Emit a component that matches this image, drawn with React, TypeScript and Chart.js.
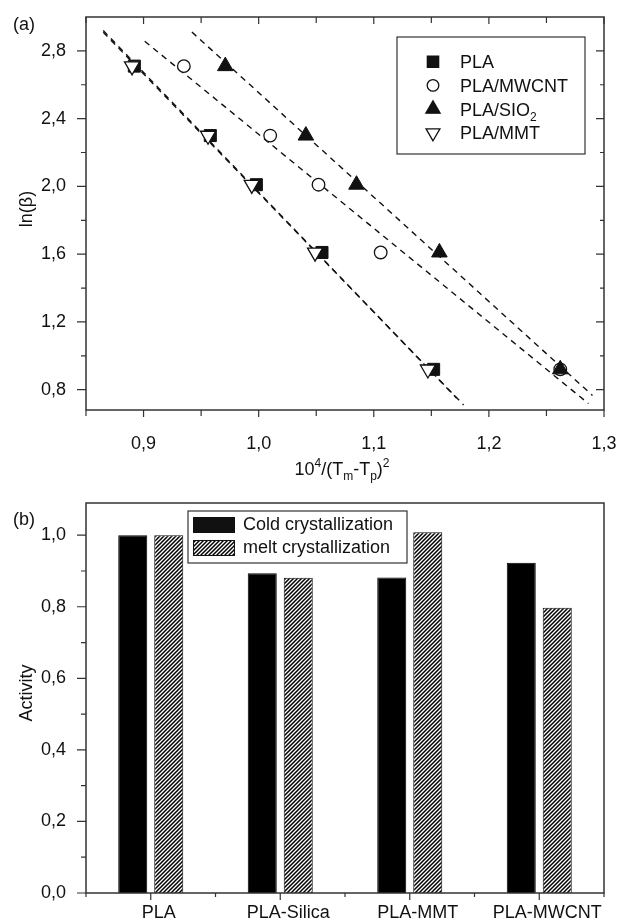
import React, { useEffect, useRef } from 'react';
import { Chart, registerables } from 'chart.js';

Chart.register(...registerables);

const FONT = '"Liberation Sans", Arial, Helvetica, sans-serif';
const INK = '#111111';
const AXIS = '#333333';
const FS = 18;

// ---------- panel (a) ----------
const lnBeta = [2.71, 2.30, 2.01, 1.61, 0.92];
const xPLA = [0.892, 0.958, 0.998, 1.055, 1.152];
const xMWCNT = [0.935, 1.010, 1.052, 1.106, 1.262];
const xSIO2 = [0.971, 1.041, 1.085, 1.157, 1.262];
const xMMT = [0.890, 0.956, 0.994, 1.049, 1.147];
const labelsA = ['PLA', 'PLA/MWCNT', 'PLA/SIO_2', 'PLA/MMT'];

// dashed fit lines: end points
const fitPLAx = [0.865, 1.172];
const fitPLAy = [2.92, 0.75];
const fitMMTx = [0.865, 1.178];
const fitMMTy = [2.91, 0.71];
const fitMWCNTx = [0.901, 1.2865];
const fitMWCNTy = [2.857, 0.718];
const fitSIO2x = [0.942, 1.29];
const fitSIO2y = [2.911, 0.766];

const xMinA = 0.85;
const xMaxA = 1.3;
const yMinA = 0.68;
const yMaxA = 3.0;
const xTicksA = [0.9, 1.0, 1.1, 1.2, 1.3];
const xMinorA = [0.85, 0.95, 1.05, 1.15, 1.25];
const yTicksA = [0.8, 1.2, 1.6, 2.0, 2.4, 2.8];
const yMinorA = [1.0, 1.4, 1.8, 2.2, 2.6];

// ---------- panel (b) ----------
const categoriesB = ['PLA', 'PLA-Silica', 'PLA-MMT', 'PLA-MWCNT'];
const coldCryst = [1.0, 0.894, 0.882, 0.923];
const meltCryst = [1.0, 0.881, 1.008, 0.797];
const labelsB = ['Cold crystallization', 'melt crystallization'];
const yMaxB = 1.09;
const yTicksB = [0, 0.2, 0.4, 0.6, 0.8, 1.0];
const yMinorB = [0.1, 0.3, 0.5, 0.7, 0.9];

const fmt = (v: number) => Number(v).toFixed(1).replace('.', ',');
const pts = (xs: number[], ys: number[]) => xs.map((x, i) => ({ x, y: ys[i] }));

type Seg = { t: string; k?: 'sup' | 'sub' };
function parseSub(s: string): Seg[] {
  const i = s.indexOf('_');
  if (i < 0) return [{ t: s }];
  return [{ t: s.slice(0, i) }, { t: s.slice(i + 1), k: 'sub' }];
}
function drawRich(ctx: CanvasRenderingContext2D, segs: Seg[], x: number, y: number, size: number, align: 'left' | 'center') {
  const small = Math.round(size * 0.68);
  const widths = segs.map((s) => {
    ctx.font = `${s.k ? small : size}px ${FONT}`;
    return ctx.measureText(s.t).width;
  });
  const total = widths.reduce((a, b) => a + b, 0);
  let cx = align === 'center' ? x - total / 2 : x;
  ctx.textAlign = 'left';
  ctx.textBaseline = 'alphabetic';
  segs.forEach((s, i) => {
    ctx.font = `${s.k ? small : size}px ${FONT}`;
    const dy = s.k === 'sup' ? -size * 0.42 : s.k === 'sub' ? size * 0.3 : 0;
    ctx.fillText(s.t, cx, y + dy);
    cx += widths[i];
  });
}
function drawVertical(ctx: CanvasRenderingContext2D, text: string, x: number, y: number, size: number) {
  ctx.save();
  ctx.translate(x, y);
  ctx.rotate(-Math.PI / 2);
  ctx.font = `${size}px ${FONT}`;
  ctx.textAlign = 'center';
  ctx.textBaseline = 'alphabetic';
  ctx.fillText(text, 0, 0);
  ctx.restore();
}
function marker(ctx: CanvasRenderingContext2D, style: string, x: number, y: number, r: number, filled: boolean) {
  ctx.beginPath();
  if (style === 'rect') {
    const s = r * Math.SQRT1_2;
    ctx.rect(x - s, y - s, 2 * s, 2 * s);
  } else if (style === 'circle') {
    ctx.arc(x, y, r, 0, Math.PI * 2);
  } else {
    let rad = style === 'triangleDown' ? Math.PI : 0;
    ctx.moveTo(x + Math.sin(rad) * r, y - Math.cos(rad) * r);
    rad += (2 * Math.PI) / 3;
    ctx.lineTo(x + Math.sin(rad) * r, y - Math.cos(rad) * r);
    rad += (2 * Math.PI) / 3;
    ctx.lineTo(x + Math.sin(rad) * r, y - Math.cos(rad) * r);
    ctx.closePath();
  }
  ctx.fillStyle = filled ? INK : '#ffffff';
  ctx.fill();
  ctx.strokeStyle = INK;
  ctx.lineWidth = 1.3;
  ctx.stroke();
}
function strokeTicks(ctx: CanvasRenderingContext2D, segs: number[][], w: number) {
  ctx.beginPath();
  segs.forEach(([a, b, c, d]) => {
    ctx.moveTo(a, b);
    ctx.lineTo(c, d);
  });
  ctx.lineWidth = w;
  ctx.strokeStyle = AXIS;
  ctx.stroke();
}

const legendStylesA = ['rect', 'circle', 'triangle', 'triangleDown'];
const legendFilledA = [true, false, true, false];
const legendRadiusA = [8, 5.8, 8.2, 8];

const panelAPlugin = {
  id: 'panelA',
  afterDraw(chart: any) {
    const { ctx, chartArea: a } = chart;
    const xs = chart.scales.x;
    const ys = chart.scales.y;
    ctx.save();
    ctx.strokeStyle = AXIS;
    ctx.lineWidth = 1.5;
    ctx.strokeRect(a.left, a.top, a.right - a.left, a.bottom - a.top);
    const t: number[][] = [];
    xTicksA.forEach((v) => {
      const p = xs.getPixelForValue(v);
      t.push([p, a.bottom, p, a.bottom + 7]);
      t.push([p, a.top, p, a.top + 7]);
    });
    xMinorA.forEach((v) => {
      const p = xs.getPixelForValue(v);
      t.push([p, a.bottom, p, a.bottom + 6]);
      t.push([p, a.top, p, a.top + 6]);
    });
    yTicksA.forEach((v) => {
      const p = ys.getPixelForValue(v);
      t.push([a.left - 9, p, a.left, p]);
      t.push([a.right - 8, p, a.right, p]);
    });
    yMinorA.forEach((v) => {
      const p = ys.getPixelForValue(v);
      t.push([a.left - 5, p, a.left, p]);
      t.push([a.right - 4, p, a.right, p]);
    });
    strokeTicks(ctx, t, 1.2);

    // legend
    ctx.fillStyle = '#ffffff';
    ctx.fillRect(397, 37, 188, 117);
    ctx.strokeStyle = AXIS;
    ctx.lineWidth = 1.2;
    ctx.strokeRect(397, 37, 188, 117);
    labelsA.forEach((lab, i) => {
      const cy = 61.7 + i * 23.7;
      marker(ctx, legendStylesA[i], 433, cy, legendRadiusA[i], legendFilledA[i]);
      ctx.fillStyle = INK;
      drawRich(ctx, parseSub(lab), 460, cy + 6.5, FS, 'left');
    });

    // titles
    ctx.fillStyle = INK;
    drawRich(ctx, [{ t: '(a)' }], 13, 29.5, FS, 'left');
    drawVertical(ctx, 'ln(β)', 32, 209, FS);
    drawRich(
      ctx,
      [
        { t: '10' },
        { t: '4', k: 'sup' },
        { t: '/(T' },
        { t: 'm', k: 'sub' },
        { t: '-T' },
        { t: 'p', k: 'sub' },
        { t: ')' },
        { t: '2', k: 'sup' },
      ],
      (a.left + a.right) / 2 - 3,
      475,
      FS,
      'center'
    );
    ctx.restore();
  },
};

let hatchRef: any = null;

const panelBPlugin = {
  id: 'panelB',
  afterDraw(chart: any) {
    const { ctx, chartArea: a } = chart;
    const xs = chart.scales.x;
    const ys = chart.scales.y;
    ctx.save();
    ctx.strokeStyle = AXIS;
    ctx.lineWidth = 1.5;
    ctx.strokeRect(a.left, a.top, a.right - a.left, a.bottom - a.top);
    const t: number[][] = [];
    const n = categoriesB.length;
    const w = (a.right - a.left) / n;
    categoriesB.forEach((_, i) => {
      const p = xs.getPixelForValue(i);
      t.push([p, a.bottom, p, a.bottom + 7]);
    });
    for (let i = 0; i <= n; i++) {
      const p = a.left + i * w;
      t.push([p, a.bottom, p, a.bottom + 4]);
    }
    yTicksB.forEach((v) => {
      const p = ys.getPixelForValue(v);
      t.push([a.left - 9, p, a.left, p]);
    });
    yMinorB.forEach((v) => {
      const p = ys.getPixelForValue(v);
      t.push([a.left - 5, p, a.left, p]);
    });
    strokeTicks(ctx, t, 1.2);

    // legend
    ctx.fillStyle = '#ffffff';
    ctx.fillRect(188, 11, 219, 52);
    ctx.strokeStyle = AXIS;
    ctx.lineWidth = 1.2;
    ctx.strokeRect(188, 11, 219, 52);
    labelsB.forEach((lab, i) => {
      const y0 = 17 + i * 23;
      ctx.fillStyle = i === 0 ? INK : hatchRef || '#888';
      ctx.fillRect(193, y0, 42, 16);
      ctx.strokeStyle = INK;
      ctx.lineWidth = 1;
      ctx.strokeRect(193.5, y0 + 0.5, 41, 15);
      ctx.fillStyle = INK;
      ctx.font = `${FS}px ${FONT}`;
      ctx.textAlign = 'left';
      ctx.textBaseline = 'middle';
      ctx.fillText(lab, 243, y0 + 8.5);
    });

    ctx.fillStyle = INK;
    drawRich(ctx, [{ t: '(b)' }], 13, 25, FS, 'left');
    drawVertical(ctx, 'Activity', 32, 193, FS);
    ctx.restore();
  },
};

function makeHatch(ctx: CanvasRenderingContext2D) {
  const c = document.createElement('canvas');
  c.width = 4;
  c.height = 4;
  const g = c.getContext('2d') as CanvasRenderingContext2D;
  g.fillStyle = '#ffffff';
  g.fillRect(0, 0, 4, 4);
  g.strokeStyle = '#000000';
  g.lineWidth = 1.5;
  g.beginPath();
  g.moveTo(0, 4);
  g.lineTo(4, 0);
  g.moveTo(-1, 1);
  g.lineTo(1, -1);
  g.moveTo(3, 5);
  g.lineTo(5, 3);
  g.stroke();
  return ctx.createPattern(c, 'repeat');
}

const tickFont = { family: FONT, size: FS };

export default function App() {
  const refA = useRef<HTMLCanvasElement>(null);
  const refB = useRef<HTMLCanvasElement>(null);

  useEffect(() => {
    Chart.defaults.font.family = FONT;
    const fitLine = (xs: number[], ys: number[]) => ({
      data: pts(xs, ys),
      showLine: true,
      borderDash: [6, 5],
      borderColor: INK,
      borderWidth: 1.4,
      pointRadius: 0,
      pointHoverRadius: 0,
      fill: false,
      order: 10,
    });
    const chartA = new Chart(refA.current as HTMLCanvasElement, {
      type: 'scatter',
      data: {
        datasets: [
          {
            label: labelsA[0],
            data: pts(xPLA, lnBeta),
            pointStyle: 'rect',
            pointRadius: 8.5,
            pointHoverRadius: 8.5,
            backgroundColor: INK,
            borderColor: INK,
            borderWidth: 1,
            order: 4,
          },
          {
            label: labelsA[1],
            data: pts(xMWCNT, lnBeta),
            pointStyle: 'circle',
            pointRadius: 6.3,
            pointHoverRadius: 6.3,
            backgroundColor: '#ffffff',
            borderColor: INK,
            borderWidth: 1.3,
            order: 3,
          },
          {
            label: labelsA[2],
            data: pts(xSIO2, lnBeta),
            pointStyle: 'triangle',
            pointRadius: 9,
            pointHoverRadius: 9,
            backgroundColor: INK,
            borderColor: INK,
            borderWidth: 1,
            order: 2,
          },
          {
            label: labelsA[3],
            data: pts(xMMT, lnBeta),
            pointStyle: 'triangle',
            rotation: 180,
            pointRadius: 8.7,
            pointHoverRadius: 8.7,
            backgroundColor: '#ffffff',
            borderColor: INK,
            borderWidth: 1.3,
            order: 1,
          },
          fitLine(fitPLAx, fitPLAy),
          fitLine(fitMMTx, fitMMTy),
          fitLine(fitMWCNTx, fitMWCNTy),
          fitLine(fitSIO2x, fitSIO2y),
        ] as any,
      },
      options: {
        animation: false,
        responsive: false,
        events: [],
        layout: { padding: { top: 17, right: 15, bottom: 0, left: 0 } },
        plugins: { legend: { display: false }, tooltip: { enabled: false } },
        scales: {
          x: {
            type: 'linear',
            position: 'bottom',
            min: xMinA,
            max: xMaxA,
            grid: { display: false },
            border: { display: false },
            ticks: { font: tickFont, color: INK, padding: 15, maxRotation: 0, autoSkip: false, callback: (v: any) => fmt(v) },
            afterBuildTicks: (s: any) => {
              s.ticks = xTicksA.map((v) => ({ value: v }));
            },
            afterFit: (s: any) => {
              s.height = 90;
              s.paddingLeft = 0;
              s.paddingRight = 0;
            },
          },
          y: {
            type: 'linear',
            min: yMinA,
            max: yMaxA,
            grid: { display: false },
            border: { display: false },
            ticks: { font: tickFont, color: INK, padding: 12, autoSkip: false, callback: (v: any) => fmt(v) },
            afterBuildTicks: (s: any) => {
              s.ticks = yTicksA.map((v) => ({ value: v }));
            },
            afterFit: (s: any) => {
              s.width = 86;
              s.paddingTop = 0;
              s.paddingBottom = 0;
            },
          },
        },
      } as any,
      plugins: [panelAPlugin],
    });

    const ctxB = (refB.current as HTMLCanvasElement).getContext('2d') as CanvasRenderingContext2D;
    hatchRef = makeHatch(ctxB);
    const chartB = new Chart(refB.current as HTMLCanvasElement, {
      type: 'bar',
      data: {
        labels: categoriesB,
        datasets: [
          {
            label: labelsB[0],
            data: coldCryst,
            backgroundColor: '#000000',
            borderColor: '#000000',
            borderWidth: 1,
            categoryPercentage: 0.556,
            barPercentage: 0.806,
          },
          {
            label: labelsB[1],
            data: meltCryst,
            backgroundColor: hatchRef,
            borderColor: INK,
            borderWidth: 1,
            categoryPercentage: 0.556,
            barPercentage: 0.806,
          },
        ] as any,
      },
      options: {
        animation: false,
        responsive: false,
        events: [],
        layout: { padding: { top: 3, right: 15, bottom: 0, left: 0 } },
        plugins: { legend: { display: false }, tooltip: { enabled: false } },
        scales: {
          x: {
            type: 'category',
            grid: { display: false },
            border: { display: false },
            ticks: { font: tickFont, color: INK, padding: 1, labelOffset: 8, maxRotation: 0, autoSkip: false },
            afterFit: (s: any) => {
              s.height = 27;
              s.paddingLeft = 0;
              s.paddingRight = 0;
            },
          },
          y: {
            type: 'linear',
            min: 0,
            max: yMaxB,
            grid: { display: false },
            border: { display: false },
            ticks: { font: tickFont, color: INK, padding: 12, autoSkip: false, callback: (v: any) => fmt(v) },
            afterBuildTicks: (s: any) => {
              s.ticks = yTicksB.map((v) => ({ value: v }));
            },
            afterFit: (s: any) => {
              s.width = 86;
              s.paddingTop = 0;
              s.paddingBottom = 0;
            },
          },
        },
      } as any,
      plugins: [panelBPlugin],
    });

    return () => {
      chartA.destroy();
      chartB.destroy();
    };
  }, []);

  return (
    <div style={{ position: 'absolute', left: 0, top: 0, width: 619, height: 920, background: '#ffffff' }}>
      <canvas ref={refA} width={619} height={500} style={{ position: 'absolute', left: 0, top: 0, width: 619, height: 500 }} />
      <canvas ref={refB} width={619} height={420} style={{ position: 'absolute', left: 0, top: 500, width: 619, height: 420 }} />
    </div>
  );
}
